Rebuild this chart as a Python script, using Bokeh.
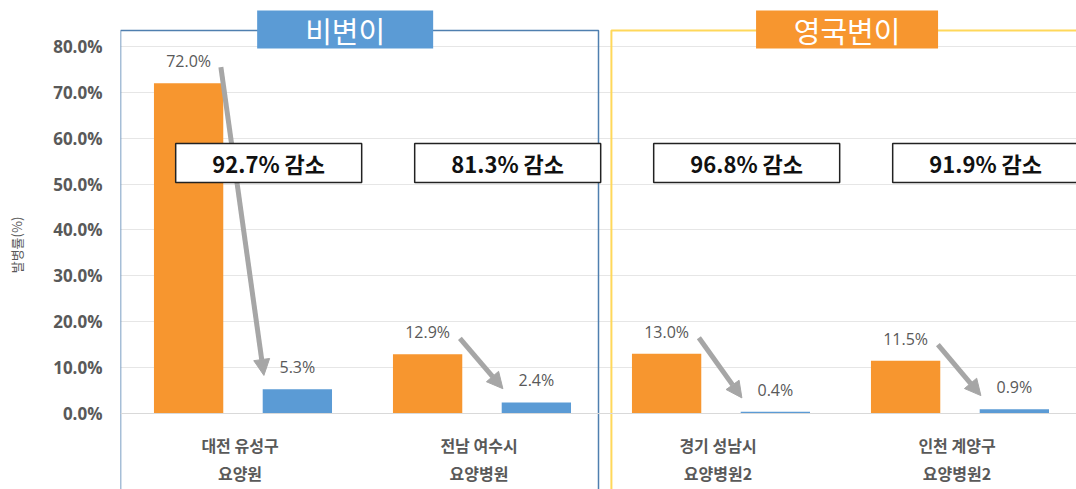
from bokeh.plotting import figure
from bokeh.models import (ColumnDataSource, FactorRange, Range1d, FixedTicker,
                          NumeralTickFormatter, Arrow, NormalHead)
from bokeh.transform import dodge
from bokeh.core.properties import value
from bokeh.embed import file_html
from bokeh.resources import INLINE

# ---- data ----
categories = ["대전 유성구\n요양원", "전남 여수시\n요양병원", "경기 성남시\n요양병원2", "인천 계양구\n요양병원2"]
before = [0.720, 0.129, 0.130, 0.115]
after = [0.053, 0.024, 0.004, 0.009]
reductions = ["92.7% 감소", "81.3% 감소", "96.8% 감소", "91.9% 감소"]
panel_titles = ["비변이", "영국변이"]
y_ticks = [0.0, 0.1, 0.2, 0.3, 0.4, 0.5, 0.6, 0.7, 0.8]
y_title = "발병률(%)"

FONT = "Noto Sans CJK KR"
ORANGE = "#F7962F"
BLUE = "#5B9BD5"
GREY_TXT = "#595959"
ARROW_C = "#A6A6A6"

src = ColumnDataSource(dict(
    cat=categories,
    before=before,
    after=after,
    before_lbl=[f"{v*100:.1f}%" for v in before],
    after_lbl=[f"{v*100:.1f}%" for v in after],
    red=reductions,
))

p = figure(width=1076, height=489, x_range=FactorRange(*categories, range_padding=0),
           y_range=Range1d(-0.1657, 0.9003), output_backend="svg", toolbar_location=None,
           min_border_left=120, min_border_right=0, min_border_top=0, min_border_bottom=0)
p.outline_line_color = None
p.background_fill_color = "white"

# grid
p.xgrid.grid_line_color = None
p.ygrid.ticker = FixedTicker(ticks=y_ticks)
p.ygrid.grid_line_color = "#E6E6E6"
p.ygrid.grid_line_width = 1

# panel frames (behind everything)
p.quad(left=[0.0], right=[2.0], top=[0.835], bottom=[-0.3], fill_color=None,
       line_color="#4F7FAF", line_width=1.5)
p.quad(left=[2.054], right=[4.1], top=[0.835], bottom=[-0.3], fill_color=None,
       line_color="#FFD85A", line_width=2)

# bars
p.vbar(x=dodge("cat", -0.215, range=p.x_range), top="before", width=0.29, source=src,
       fill_color=ORANGE, line_color=None)
p.vbar(x=dodge("cat", 0.24, range=p.x_range), top="after", width=0.29, source=src,
       fill_color=BLUE, line_color=None)

# value labels
p.text(x=dodge("cat", -0.215, range=p.x_range), y="before", text="before_lbl", source=src,
       text_align="center", text_baseline="bottom", y_offset=-11,
       text_font=value("Open Sans"), text_font_size="16px", text_color=GREY_TXT)
p.text(x=dodge("cat", 0.24, range=p.x_range), y="after", text="after_lbl", source=src,
       text_align="center", text_baseline="bottom", y_offset=-11,
       text_font=value("Open Sans"), text_font_size="16px", text_color=GREY_TXT)

# arrows
for i, (b, a) in enumerate(zip(before, after)):
    p.add_layout(Arrow(x_start=i + 0.5 - 0.08, y_start=b + 0.035,
                       x_end=i + 0.5 + 0.1, y_end=a + 0.03,
                       line_color=ARROW_C, line_width=5,
                       end=NormalHead(size=16, fill_color=ARROW_C, line_color=ARROW_C)))

# reduction boxes (drawn above the arrows)
r1 = p.rect(x=dodge("cat", 0.12, range=p.x_range), y=0.546, width=186, height=39,
            width_units="screen", height_units="screen", source=src,
            fill_color="white", line_color="#222222", line_width=1.5)
r2 = p.text(x=dodge("cat", 0.12, range=p.x_range), y=0.546, text="red", source=src,
            text_align="center", text_baseline="middle",
            text_font=value(FONT), text_font_size="22px", text_font_style="bold",
            text_color="#111111")
r1.level = "overlay"
r2.level = "overlay"

# panel titles
p.rect(x=[0.94, 3.04], y=[0.837, 0.837], width=[176, 182], height=38,
       width_units="screen", height_units="screen",
       fill_color=[BLUE, ORANGE], line_color=None)
p.text(x=[0.94, 3.04], y=[0.837, 0.837], text=panel_titles,
       text_align="center", text_baseline="middle",
       text_font=value(FONT), text_font_size="29px", text_color="white")

# axes
p.xaxis.fixed_location = 0
p.xaxis.axis_line_color = "#D9D9D9"
p.xaxis.major_tick_line_color = None
p.xaxis.minor_tick_line_color = None
p.xaxis.major_label_text_font = FONT
p.xaxis.major_label_text_font_size = "16px"
p.xaxis.major_label_text_font_style = "bold"
p.xaxis.major_label_text_color = GREY_TXT
p.xaxis.major_label_text_line_height = 1.15
p.xaxis.major_label_standoff = 14

p.yaxis.ticker = FixedTicker(ticks=y_ticks)
p.yaxis.formatter = NumeralTickFormatter(format="0.0%")
p.yaxis.axis_line_color = None
p.yaxis.major_tick_line_color = None
p.yaxis.minor_tick_line_color = None
p.yaxis.major_label_text_font = "Open Sans"
p.yaxis.major_label_text_font_size = "17px"
p.yaxis.major_label_text_font_style = "bold"
p.yaxis.major_label_text_color = GREY_TXT
p.yaxis.major_label_standoff = 12
p.yaxis.axis_label = y_title
p.yaxis.axis_label_text_font = FONT
p.yaxis.axis_label_text_font_size = "13px"
p.yaxis.axis_label_text_font_style = "normal"
p.yaxis.axis_label_text_color = GREY_TXT
p.yaxis.axis_label_standoff = 24

open("out.html", "w").write(file_html(p, INLINE))
